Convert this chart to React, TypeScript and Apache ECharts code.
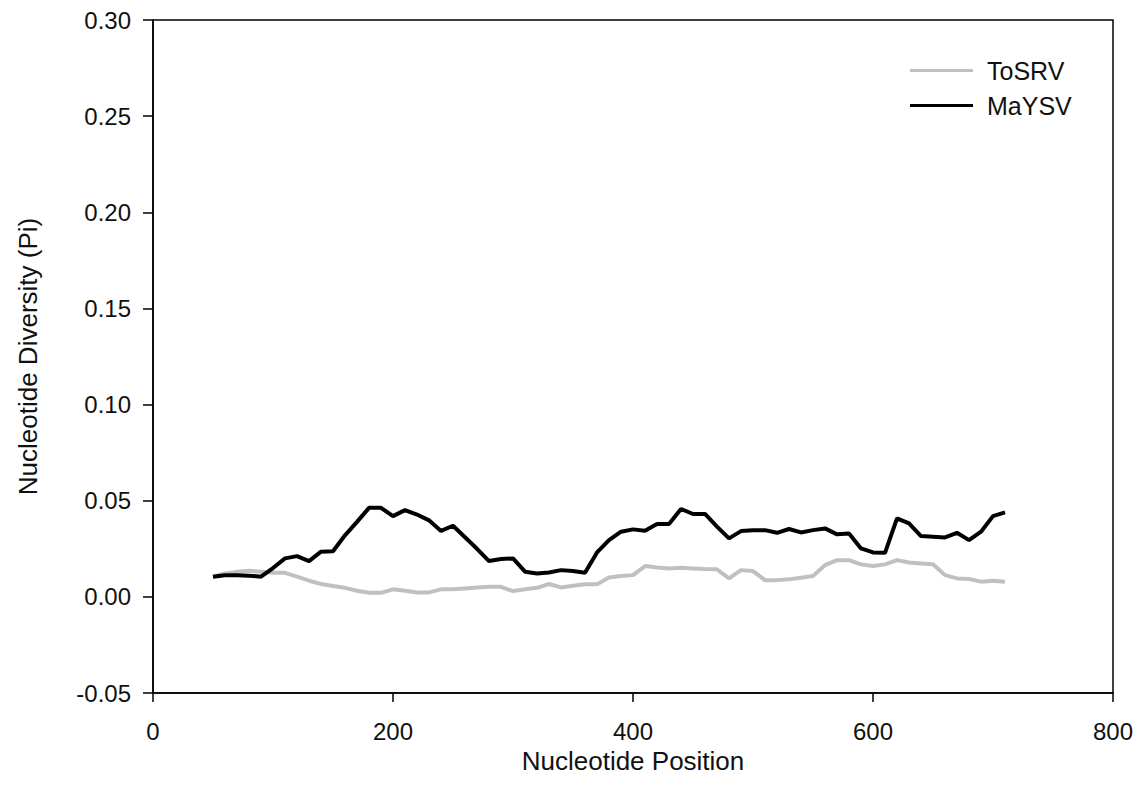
import React, { useEffect, useRef } from "react";
import * as echarts from "echarts";

const positions = [
  50, 60, 70, 80, 90, 100, 110, 120, 130, 140, 150, 160, 170, 180, 190, 200, 210, 220, 230, 240,
  250, 260, 270, 280, 290, 300, 310, 320, 330, 340, 350, 360, 370, 380, 390, 400, 410, 420, 430,
  440, 450, 460, 470, 480, 490, 500, 510, 520, 530, 540, 550, 560, 570, 580, 590, 600, 610, 620,
  630, 640, 650, 660, 670, 680, 690, 700, 710,
];

const tosrv = [
  0.0105, 0.0122, 0.013, 0.0136, 0.013, 0.0125, 0.0125, 0.0105, 0.0084, 0.0067, 0.0056, 0.0047,
  0.0032, 0.0021, 0.0021, 0.0039, 0.0032, 0.0023, 0.0023, 0.0039, 0.0039, 0.0044, 0.0049, 0.0052,
  0.0052, 0.003, 0.0039, 0.0047, 0.0067, 0.0049, 0.0058, 0.0065, 0.0065, 0.0101, 0.0108, 0.0113,
  0.016, 0.0153, 0.0148, 0.0151, 0.0148, 0.0145, 0.0143, 0.0096, 0.0139, 0.0134, 0.0087, 0.0087,
  0.0091, 0.0099, 0.0108, 0.0165, 0.0191, 0.0191, 0.0169, 0.016, 0.0169, 0.0191, 0.0179, 0.0174,
  0.0169, 0.0113, 0.0096, 0.0093, 0.0079, 0.0084, 0.0079,
];

const maysv = [
  0.0105, 0.0112, 0.0112, 0.011, 0.0105, 0.015, 0.02, 0.0212, 0.0186, 0.0235, 0.0237, 0.032, 0.039,
  0.0463, 0.0463, 0.042, 0.0451, 0.0428, 0.0398, 0.0343, 0.037, 0.031, 0.025, 0.0186, 0.0197,
  0.02, 0.0131, 0.0122, 0.0127, 0.0139, 0.0134, 0.0125, 0.0231, 0.0295, 0.0339, 0.0351, 0.0344,
  0.0379, 0.0379, 0.0457, 0.0431, 0.0431, 0.0365, 0.0304, 0.0342, 0.0347, 0.0347, 0.0333, 0.0353,
  0.0335, 0.0347, 0.0356, 0.0325, 0.033, 0.0252, 0.0231, 0.0229, 0.0408, 0.0382, 0.0316, 0.0313,
  0.0309, 0.0333, 0.0295, 0.0339, 0.042, 0.0439,
];

const seriesNames = ["ToSRV", "MaYSV"];

export default function App() {
  const ref = useRef<HTMLDivElement>(null);
  useEffect(() => {
    if (!ref.current) return;
    const chart = echarts.init(ref.current, null, { renderer: "svg" });
    const font = "Arial, 'Liberation Sans', Helvetica, sans-serif";
    chart.setOption({
      animation: false,
      backgroundColor: "#ffffff",
      textStyle: { fontFamily: font },
      grid: {
        left: 153,
        right: 32,
        top: 20,
        bottom: 117,
        show: true,
        borderColor: "#000",
        borderWidth: 1.5,
        containLabel: false,
      },
      legend: {
        orient: "vertical",
        left: 910,
        top: 58,
        padding: 0,
        itemWidth: 63,
        itemHeight: 3,
        itemGap: 10,
        icon: "rect",
        data: seriesNames,
        textStyle: { fontSize: 25, color: "#111", fontFamily: font, padding: [0, 0, 0, 9] },
      },
      xAxis: {
        type: "value",
        min: 0,
        max: 800,
        interval: 200,
        name: "Nucleotide Position",
        nameLocation: "middle",
        nameGap: 55,
        nameTextStyle: { fontSize: 26, color: "#111", fontFamily: font },
        axisLine: { show: true, onZero: false, lineStyle: { color: "#000", width: 1.5 } },
        axisTick: { show: true, inside: false, length: 9, lineStyle: { color: "#000", width: 1.5 } },
        axisLabel: { fontSize: 24, color: "#111", margin: 26, fontFamily: font },
        splitLine: { show: false },
      },
      yAxis: {
        type: "value",
        min: -0.05,
        max: 0.3,
        interval: 0.05,
        name: "Nucleotide Diversity (Pi)",
        nameLocation: "middle",
        nameGap: 112,
        nameTextStyle: { fontSize: 26, color: "#111", fontFamily: font },
        axisLine: { show: true, onZero: false, lineStyle: { color: "#000", width: 1.5 } },
        axisTick: { show: true, inside: false, length: 10, lineStyle: { color: "#000", width: 1.5 } },
        axisLabel: {
          fontSize: 24,
          color: "#111",
          margin: 22,
          fontFamily: font,
          formatter: (v: number) => v.toFixed(2),
        },
        splitLine: { show: false },
      },
      series: [
        {
          name: seriesNames[0],
          type: "line",
          data: positions.map((x, i) => [x, tosrv[i]]),
          showSymbol: false,
          symbol: "none",
          lineStyle: { color: "#c0c0c0", width: 4 },
          itemStyle: { color: "#c0c0c0" },
          z: 2,
        },
        {
          name: seriesNames[1],
          type: "line",
          data: positions.map((x, i) => [x, maysv[i]]),
          showSymbol: false,
          symbol: "none",
          lineStyle: { color: "#000000", width: 4 },
          itemStyle: { color: "#000000" },
          z: 3,
        },
      ],
    });
    return () => chart.dispose();
  }, []);
  return (
    <div
      ref={ref}
      style={{ position: "fixed", left: 0, top: 0, width: 1145, height: 810, background: "#fff" }}
    />
  );
}
